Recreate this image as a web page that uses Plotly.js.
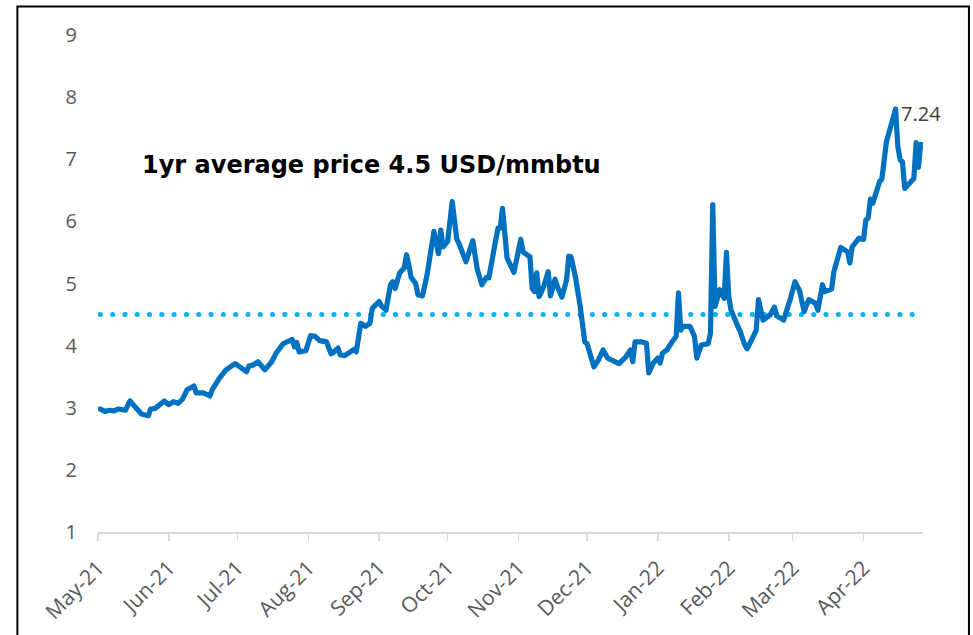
<!DOCTYPE html>
<html>
<head>
<meta charset="utf-8">
<script src="https://cdn.plot.ly/plotly-3.0.1.min.js"></script>
<style>
  html, body { margin: 0; padding: 0; background: #ffffff; }
  #chart { width: 973px; height: 635px; }
  .scatterlayer path.js-line { stroke-linecap: round; stroke-linejoin: round; }
</style>
</head>
<body>
<div id="chart"></div>
<script>
// Henry Hub gas price, USD/mmbtu
const dates = [
  "2021-05-02","2021-05-04","2021-05-06","2021-05-08","2021-05-10","2021-05-13","2021-05-15","2021-05-18","2021-05-20","2021-05-23",
  "2021-05-24","2021-05-26","2021-05-30","2021-06-01","2021-06-03","2021-06-05","2021-06-07","2021-06-09","2021-06-12","2021-06-13",
  "2021-06-16","2021-06-19","2021-06-20","2021-06-23","2021-06-26","2021-06-30","2021-07-02","2021-07-05","2021-07-06","2021-07-08",
  "2021-07-10","2021-07-13","2021-07-16","2021-07-18","2021-07-21","2021-07-23","2021-07-25","2021-07-26","2021-07-27","2021-07-28",
  "2021-07-31","2021-08-02","2021-08-04","2021-08-06","2021-08-09","2021-08-11","2021-08-12","2021-08-14","2021-08-15","2021-08-17",
  "2021-08-19","2021-08-21","2021-08-22","2021-08-24","2021-08-26","2021-08-28","2021-08-29","2021-09-01","2021-09-02","2021-09-04",
  "2021-09-06","2021-09-07","2021-09-08","2021-09-10","2021-09-12","2021-09-13","2021-09-14","2021-09-15","2021-09-17","2021-09-18",
  "2021-09-20","2021-09-22","2021-09-25","2021-09-26","2021-09-27","2021-09-28","2021-09-29","2021-10-01","2021-10-03","2021-10-05",
  "2021-10-06","2021-10-09","2021-10-12","2021-10-14","2021-10-16","2021-10-18","2021-10-19","2021-10-23","2021-10-24","2021-10-25",
  "2021-10-27","2021-10-30","2021-11-01","2021-11-02","2021-11-03","2021-11-06","2021-11-07","2021-11-08","2021-11-09","2021-11-10",
  "2021-11-12","2021-11-14","2021-11-15","2021-11-17","2021-11-18","2021-11-20","2021-11-22","2021-11-23","2021-11-24","2021-11-26",
  "2021-11-28","2021-11-30","2021-12-01","2021-12-04","2021-12-06","2021-12-08","2021-12-10","2021-12-13","2021-12-15","2021-12-18",
  "2021-12-20","2021-12-21","2021-12-22","2021-12-25","2021-12-27","2021-12-28","2021-12-30","2022-01-01","2022-01-02","2022-01-03",
  "2022-01-05","2022-01-07","2022-01-09","2022-01-10","2022-01-11","2022-01-12","2022-01-15","2022-01-17","2022-01-18","2022-01-20",
  "2022-01-23","2022-01-24","2022-01-25","2022-01-26","2022-01-28","2022-01-30","2022-01-31","2022-02-01","2022-02-02","2022-02-05",
  "2022-02-06","2022-02-08","2022-02-09","2022-02-11","2022-02-13","2022-02-14","2022-02-16","2022-02-19","2022-02-21","2022-02-22",
  "2022-02-25","2022-02-28","2022-03-02","2022-03-04","2022-03-06","2022-03-08","2022-03-11","2022-03-12","2022-03-14","2022-03-15",
  "2022-03-18","2022-03-19","2022-03-22","2022-03-25","2022-03-26","2022-03-27","2022-03-30","2022-04-01","2022-04-02","2022-04-03",
  "2022-04-04","2022-04-05","2022-04-08","2022-04-09","2022-04-11","2022-04-15","2022-04-16","2022-04-17","2022-04-18","2022-04-19",
  "2022-04-23","2022-04-24","2022-04-25","2022-04-26"
];
const prices = [
  2.98,2.94,2.96,2.95,2.98,2.96,3.11,2.98,2.90,2.87,
  2.98,2.99,3.11,3.05,3.10,3.07,3.14,3.29,3.35,3.24,
  3.24,3.19,3.29,3.47,3.61,3.71,3.66,3.58,3.67,3.69,
  3.74,3.61,3.74,3.88,4.03,4.06,4.10,3.98,4.05,3.90,
  3.92,4.16,4.15,4.08,4.06,3.87,3.89,3.96,3.85,3.84,
  3.90,3.94,3.90,4.36,4.31,4.36,4.60,4.71,4.64,4.57,
  4.98,5.03,4.92,5.17,5.25,5.46,5.30,5.10,5.00,4.82,
  4.80,5.14,5.84,5.70,5.48,5.86,5.59,5.68,6.32,5.71,
  5.64,5.35,5.69,5.22,4.98,5.10,5.09,5.89,5.89,6.21,
  5.41,5.18,5.59,5.71,5.51,5.43,4.92,4.87,5.17,4.79,
  4.95,5.19,4.80,5.07,4.95,4.78,5.05,5.44,5.43,5.09,
  4.63,4.06,4.03,3.66,3.77,3.93,3.80,3.74,3.71,3.82,
  3.93,3.74,4.06,4.06,4.04,3.56,3.72,3.80,3.72,3.88,
  3.93,4.05,4.15,4.85,4.25,4.31,4.31,4.15,3.80,4.01,
  4.03,4.20,6.27,4.63,4.90,4.76,5.50,4.79,4.57,4.31,
  4.23,4.01,3.95,4.09,4.25,4.74,4.41,4.49,4.62,4.48,
  4.41,4.76,5.03,4.88,4.55,4.74,4.68,4.57,4.98,4.87,
  4.91,5.19,5.58,5.51,5.33,5.59,5.73,5.71,6.02,6.05,
  6.36,6.29,6.64,6.68,7.28,7.81,7.20,6.99,6.96,6.53,
  6.69,7.27,6.87,7.24
];
const avgPrice = 4.5;
const avgDates = [dates[0], dates[dates.length - 1]];
const avgValues = [avgPrice, avgPrice];
const monthTicks = ["2021-05-01","2021-06-01","2021-07-01","2021-08-01","2021-09-01","2021-10-01",
                    "2021-11-01","2021-12-01","2022-01-01","2022-02-01","2022-03-01","2022-04-01"];
const monthLabels = ["May-21","Jun-21","Jul-21","Aug-21","Sep-21","Oct-21",
                     "Nov-21","Dec-21","Jan-22","Feb-22","Mar-22","Apr-22"];
const yTicks = [1,2,3,4,5,6,7,8,9];
const noteText = "1yr average price 4.5 USD/mmbtu";

const lastIdx = prices.length - 1;

const traces = [
  {
    x: avgDates, y: avgValues, type: "scatter", mode: "lines",
    line: { color: "#00B0F0", width: 5, dash: "0.1px,12.2px" },
    hoverinfo: "skip", showlegend: false
  },
  {
    x: dates, y: prices, type: "scatter", mode: "lines",
    line: { color: "#0070C0", width: 5.2 },
    showlegend: false
  }
];

const tickFont = { family: "Open Sans, sans-serif", size: 20, color: "#595959" };

const layout = {
  width: 973, height: 635,
  margin: { l: 98, r: 50, t: 35, b: 103 },
  paper_bgcolor: "#ffffff", plot_bgcolor: "#ffffff",
  showlegend: false,
  xaxis: {
    type: "date",
    range: ["2021-05-01", "2022-04-27"],
    tickvals: monthTicks, ticktext: monthLabels,
    tickangle: -45,
    tickfont: { family: "Open Sans, sans-serif", size: 21, color: "#595959" },
    ticklabelstandoff: 7,
    showgrid: false, zeroline: false,
    showline: true, linecolor: "#D9D9D9", linewidth: 1.5,
    ticks: "outside", ticklen: 7, tickwidth: 1.5, tickcolor: "#D9D9D9"
  },
  yaxis: {
    range: [1, 9],
    tickvals: yTicks,
    tickfont: tickFont,
    showgrid: false, zeroline: false, showline: false,
    ticks: "", ticklabelstandoff: 20
  },
  annotations: [
    {
      xref: "paper", yref: "y", x: 0.0515, y: 6.9,
      xanchor: "left", yanchor: "middle",
      text: "<b>" + noteText + "</b>", showarrow: false,
      font: { family: "DejaVu Sans, sans-serif", size: 24, color: "#000000" }
    },
    {
      x: dates[lastIdx], y: prices[lastIdx],
      text: prices[lastIdx].toFixed(2), showarrow: false,
      xanchor: "center", yanchor: "bottom", yshift: 15,
      font: { family: "Open Sans, sans-serif", size: 20, color: "#404040" }
    }
  ],
  shapes: [
    {
      type: "rect", xref: "paper", yref: "paper",
      x0: -0.0977, x1: 1.0557, y0: -0.25, y1: 1.0574,
      line: { color: "#000000", width: 2 }, fillcolor: "rgba(0,0,0,0)", layer: "above"
    }
  ]
};

Plotly.newPlot("chart", traces, layout, { staticPlot: true, displayModeBar: false });
</script>
</body>
</html>
